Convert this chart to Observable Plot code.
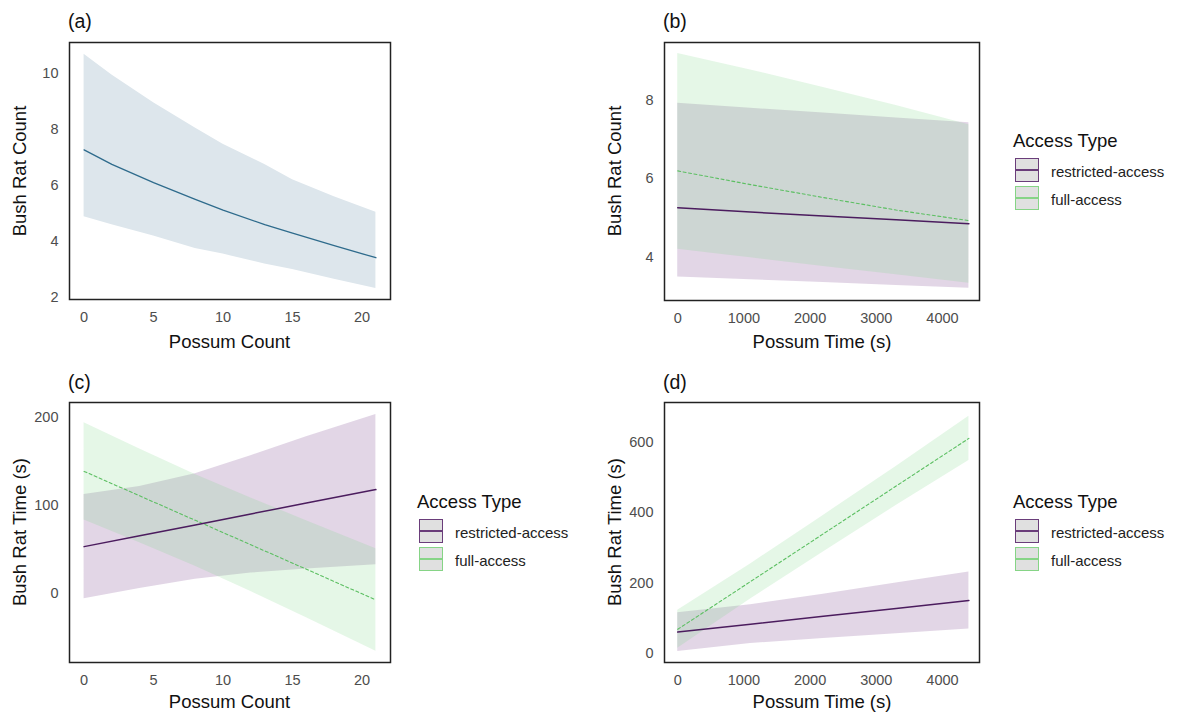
<!DOCTYPE html>
<html>
<head>
<meta charset="utf-8">
<script src="https://cdn.jsdelivr.net/npm/d3@7"></script>
<script src="https://cdn.jsdelivr.net/npm/@observablehq/plot@0.6"></script>
<style>
  body { margin: 0; background: #fff; }
  #root { position: relative; width: 1178px; height: 713px; font-family: "Liberation Sans", Arial, sans-serif; overflow: hidden; }
  .pane { position: absolute; }
  .lab { position: absolute; font-size: 19.5px; color: #111; line-height: 1; }
  .xt { position: absolute; font-size: 18.5px; color: #111; transform: translate(-50%, -50%); white-space: nowrap; line-height: 1; }
  .yt { position: absolute; font-size: 18.5px; color: #111; transform: translate(-50%, -50%) rotate(-90deg); white-space: nowrap; line-height: 1; }
  .lg-title { position: absolute; font-size: 18.5px; color: #111; line-height: 1; white-space: nowrap; }
  .lg-key { position: absolute; width: 24px; height: 24px; background: #e0e0e0; box-sizing: border-box; }
  .lg-line { position: absolute; left: 0; right: 0; top: 50%; height: 1.6px; margin-top: -0.8px; }
  .lg-text { position: absolute; font-size: 15px; color: #222; line-height: 1; white-space: nowrap; transform: translateY(-50%); }
</style>
</head>
<body>
<div id="root"></div>
<script>
// ---------- data ----------
// (a) Bush Rat Count vs Possum Count
const aX     = [0, 2, 5, 8, 10, 13, 15, 18, 21];
const aFit   = [7.27, 6.75, 6.1, 5.5, 5.12, 4.6, 4.3, 3.85, 3.42];
const aUpper = [10.68, 9.94, 8.95, 8.05, 7.47, 6.75, 6.2, 5.6, 5.04];
const aLower = [4.88, 4.6, 4.2, 3.75, 3.55, 3.2, 3.0, 2.65, 2.32];

// (b) Bush Rat Count vs Possum Time (s)
const bX          = [0, 1100, 2200, 3300, 4400];
const bResFit     = [5.26, 5.15, 5.05, 4.95, 4.85];
const bResUpper   = [7.93, 7.8, 7.68, 7.55, 7.43];
const bResLower   = [3.49, 3.42, 3.35, 3.27, 3.2];
const bFullFit    = [6.2, 5.85, 5.52, 5.2, 4.93];
const bFullUpper  = [9.2, 8.78, 8.33, 7.87, 7.38];
const bFullLower  = [4.2, 3.98, 3.76, 3.55, 3.33];

// (c) Bush Rat Time (s) vs Possum Count
const cX          = [0, 4, 8, 12, 16, 21];
const cResFit     = [53.4, 65.7, 78.0, 90.4, 102.7, 118.0];
const cResUpper   = [112.4, 121.5, 136, 156.4, 177.7, 203];
const cResLower   = [-5.6, 6, 16.5, 23.5, 28, 33];
const cFullFit    = [138.6, 110.9, 83.2, 55.5, 27.8, -7];
const cFullUpper  = [193.6, 163.9, 135.2, 108.5, 82.8, 51];
const cFullLower  = [83.6, 57.9, 31.2, 2.5, -27.2, -65];

// (d) Bush Rat Time (s) vs Possum Time (s)
const dX          = [0, 1100, 2200, 3300, 4400];
const dResFit     = [60, 82.5, 105, 127.5, 150];
const dResUpper   = [115, 137.5, 168, 199.5, 231];
const dResLower   = [5, 27.5, 42, 55.5, 69];
const dFullFit    = [68, 203.8, 339.5, 475.3, 611];
const dFullUpper  = [122, 254, 392, 531, 674];
const dFullLower  = [14, 154, 288, 420, 548];

const groups = ["restricted-access", "full-access"];
const countTicks = [0, 5, 10, 15, 20];
const timeTicks = [0, 1000, 2000, 3000, 4000];

// ---------- styles ----------
const C = {
  aFill: "#dde6ec", aLine: "#2e6b8c",
  resFill: "#6e3282", resLine: "#4b1c5e", resKey: "#6a3d7a",
  fullFill: "#7dd685", fullLine: "#5cbf62", fullKey: "#86d486"
};

const rows = (xs, fit, lo, hi) => xs.map((x, i) => ({x, fit: fit[i], lo: lo[i], hi: hi[i]}));
const plain = d => String(d);

const root = document.getElementById("root");

function place(el, left, top) {
  const d = document.createElement("div");
  d.className = "pane";
  d.style.left = left + "px";
  d.style.top = top + "px";
  d.appendChild(el);
  root.appendChild(d);
}

function panel({left, top, width, height, mL, mR, mT, mB, xDomain, yDomain, xTicks, yTicks, marks}) {
  const p = Plot.plot({
    width, height,
    marginLeft: mL, marginRight: mR, marginTop: mT, marginBottom: mB,
    style: {fontSize: "14.5px", fontFamily: "'Liberation Sans', Arial, sans-serif", color: "#4d4d4d", background: "transparent", overflow: "visible"},
    x: {domain: xDomain, ticks: xTicks, tickFormat: plain, tickSize: 0, tickPadding: 12, label: null},
    y: {domain: yDomain, ticks: yTicks, tickFormat: plain, tickSize: 0, tickPadding: 11, label: null},
    marks: [...marks, Plot.frame({stroke: "#222", strokeWidth: 1.5})]
  });
  place(p, left, top);
}

function twoGroupMarks(res, full) {
  return [
    Plot.areaY(res, {x: "x", y1: "lo", y2: "hi", fill: C.resFill, fillOpacity: 0.2}),
    Plot.areaY(full, {x: "x", y1: "lo", y2: "hi", fill: C.fullFill, fillOpacity: 0.2}),
    Plot.line(full, {x: "x", y: "fit", stroke: C.fullLine, strokeWidth: 1.1, strokeDasharray: "3,2.5"}),
    Plot.line(res, {x: "x", y: "fit", stroke: C.resLine, strokeWidth: 1.5})
  ];
}

// (a)
const aRows = rows(aX, aFit, aLower, aUpper);
panel({left: 0, top: 0, width: 400, height: 360, mL: 69, mR: 10, mT: 42, mB: 61,
  xDomain: [-1.05, 22.05], yDomain: [1.93, 11.1], xTicks: countTicks, yTicks: [2, 4, 6, 8, 10],
  marks: [
    Plot.areaY(aRows, {x: "x", y1: "lo", y2: "hi", fill: C.aFill}),
    Plot.line(aRows, {x: "x", y: "fit", stroke: C.aLine, strokeWidth: 1.3})
  ]});

// (b)
panel({left: 590, top: 0, width: 400, height: 360, mL: 74, mR: 11, mT: 42, mB: 60,
  xDomain: [-200, 4560], yDomain: [2.89, 9.48], xTicks: timeTicks, yTicks: [4, 6, 8],
  marks: twoGroupMarks(rows(bX, bResFit, bResLower, bResUpper), rows(bX, bFullFit, bFullLower, bFullUpper))});

// (c)
panel({left: 0, top: 360, width: 400, height: 353, mL: 69, mR: 10, mT: 42, mB: 51,
  xDomain: [-1.05, 22.05], yDomain: [-77.8, 216.6], xTicks: countTicks, yTicks: [0, 100, 200],
  marks: twoGroupMarks(rows(cX, cResFit, cResLower, cResUpper), rows(cX, cFullFit, cFullLower, cFullUpper))});

// (d)
panel({left: 590, top: 360, width: 400, height: 353, mL: 74, mR: 11, mT: 42, mB: 51,
  xDomain: [-200, 4560], yDomain: [-26.4, 713], xTicks: timeTicks, yTicks: [0, 200, 400, 600],
  marks: twoGroupMarks(rows(dX, dResFit, dResLower, dResUpper), rows(dX, dFullFit, dFullLower, dFullUpper))});

// ---------- text ----------
function addText(cls, txt, left, top) {
  const d = document.createElement("div");
  d.className = cls;
  d.textContent = txt;
  d.style.left = left + "px";
  d.style.top = top + "px";
  root.appendChild(d);
  return d;
}

const panelLabels = ["(a)", "(b)", "(c)", "(d)"];
addText("lab", panelLabels[0], 68, 12);
addText("lab", panelLabels[1], 663, 12);
addText("lab", panelLabels[2], 68, 373);
addText("lab", panelLabels[3], 663, 373);

addText("yt", "Bush Rat Count", 20, 171);
addText("yt", "Bush Rat Count", 615, 171);
addText("yt", "Bush Rat Time (s)", 20, 532);
addText("yt", "Bush Rat Time (s)", 615, 532);

addText("xt", "Possum Count", 229.5, 342);
addText("xt", "Possum Time (s)", 822, 342);
addText("xt", "Possum Count", 229.5, 702);
addText("xt", "Possum Time (s)", 822, 702);

// ---------- legends ----------
function legend(left, top) {
  addText("lg-title", "Access Type", left - 2, top);
  const keyColors = [C.resKey, C.fullKey];
  groups.forEach((g, i) => {
    const k = document.createElement("div");
    k.className = "lg-key";
    k.style.left = left + "px";
    k.style.top = (top + 26 + i * 28) + "px";
    k.style.border = "1.6px solid " + keyColors[i];
    const ln = document.createElement("div");
    ln.className = "lg-line";
    ln.style.background = keyColors[i];
    k.appendChild(ln);
    root.appendChild(k);
    addText("lg-text", g, left + 36, top + 39 + i * 28);
  });
}
legend(1015, 132);
legend(419, 493);
legend(1015, 493);
</script>
</body>
</html>
